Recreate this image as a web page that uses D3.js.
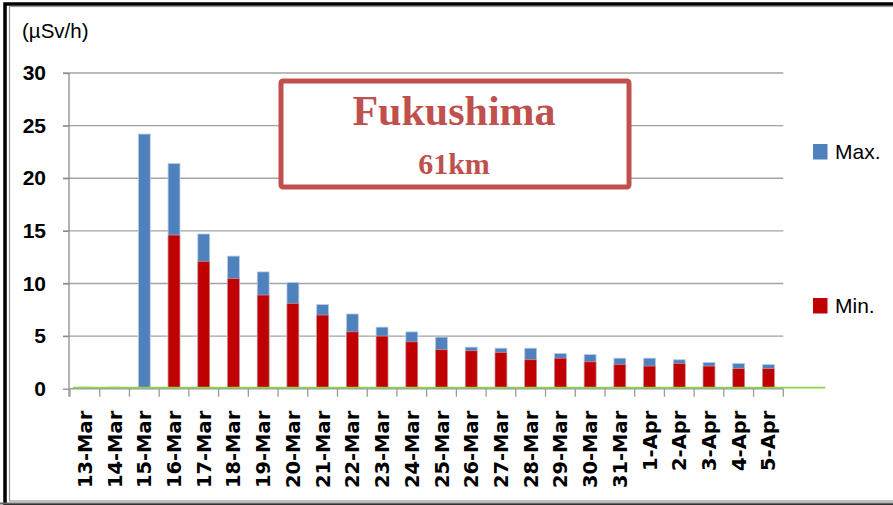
<!DOCTYPE html>
<html>
<head>
<meta charset="utf-8">
<script src="https://cdn.jsdelivr.net/npm/d3@7"></script>
<style>
  body { margin: 0; background: #fff; }
  svg { display: block; }
  .ylab text { font-family: "Liberation Sans", Arial, sans-serif; font-weight: bold; font-size: 21px; fill: #000; }
  .xlab text { font-family: "DejaVu Sans", sans-serif; font-weight: bold; font-size: 19.5px; fill: #000; }
</style>
</head>
<body>
<div id="chart"></div>
<script>
// dates on the x axis
var days = ["13-Mar", "14-Mar", "15-Mar", "16-Mar", "17-Mar", "18-Mar", "19-Mar", "20-Mar",
  "21-Mar", "22-Mar", "23-Mar", "24-Mar", "25-Mar", "26-Mar", "27-Mar", "28-Mar", "29-Mar",
  "30-Mar", "31-Mar", "1-Apr", "2-Apr", "3-Apr", "4-Apr", "5-Apr"];

// readings in microSv/h
var maxVals = [0.15, 0.15, 24.2, 21.4, 14.7, 12.6, 11.1, 10.1, 8.0, 7.1, 5.85, 5.4, 4.9,
  3.95, 3.85, 3.85, 3.35, 3.25, 2.9, 2.9, 2.75, 2.5, 2.4, 2.3];
var minVals = [0.12, 0.12, 0.1, 14.6, 12.1, 10.45, 8.9, 8.1, 7.0, 5.4, 5.0, 4.45, 3.7,
  3.6, 3.45, 2.75, 2.9, 2.55, 2.3, 2.15, 2.4, 2.15, 1.9, 1.9];

var yTicks = [0, 5, 10, 15, 20, 25, 30];
var normalLevel = 0.1;

var W = 893, H = 505;
var margin = { top: 73, left: 70, right: 109, bottom: 116 };

var svg = d3.select("#chart").append("svg")
  .attr("width", W)
  .attr("height", H);

// frame around the picture
svg.append("rect").attr("x", 5).attr("y", 4).attr("width", W + 10).attr("height", H - 4)
  .attr("fill", "none").attr("stroke", "#000").attr("stroke-width", 3.5);
svg.append("rect").attr("x", 9.5).attr("y", 6.5).attr("width", W + 10).attr("height", 494.5)
  .attr("fill", "none").attr("stroke", "#999").attr("stroke-width", 1.2);
svg.append("line").attr("x1", 0).attr("x2", W).attr("y1", 503.5).attr("y2", 503.5)
  .attr("stroke", "#666").attr("stroke-width", 2);

var x = d3.scaleBand()
  .domain(days)
  .range([margin.left, W - margin.right - 0.7])
  .padding(0);

var y = d3.scaleLinear()
  .domain([0, 30])
  .range([H - margin.bottom - 0.3, margin.top]);

var barW = x.bandwidth() * 0.4;

// grid
svg.append("g").selectAll("line")
  .data(yTicks.filter(function (d) { return d > 0; }))
  .enter().append("line")
  .attr("x1", 63).attr("x2", x.range()[1])
  .attr("y1", function (d) { return y(d); })
  .attr("y2", function (d) { return y(d); })
  .attr("stroke", "#a3a3a3").attr("stroke-width", 1.4);

// y labels
var yAxis = svg.append("g")
  .attr("class", "ylab")
  .attr("transform", "translate(" + (margin.left - 1) + ",0)")
  .call(d3.axisLeft(y).tickValues(yTicks).tickSize(6).tickPadding(17));
yAxis.select(".domain").attr("stroke", "#8c8c8c").attr("stroke-width", 1.3)
  .attr("d", "M0," + y(30) + "V" + (y(0) + 8));
yAxis.selectAll(".tick line").attr("stroke", "#8c8c8c").attr("stroke-width", 1.3);

svg.append("text")
  .attr("x", 22).attr("y", 38)
  .style("font-family", "Liberation Sans, Arial, sans-serif")
  .style("font-size", "20.5px")
  .text("(\u00b5Sv/h)");

// max bars behind, min bars in front
svg.append("g").selectAll("rect")
  .data(days)
  .enter().append("rect")
  .attr("x", function (d) { return x(d) + (x.bandwidth() - barW) / 2; })
  .attr("y", function (d, i) { return y(maxVals[i]); })
  .attr("width", barW)
  .attr("height", function (d, i) { return y(0) - y(maxVals[i]); })
  .attr("fill", "#4f81bd")
  .attr("stroke", "#b8cce4").attr("stroke-width", 0.8);

svg.append("g").selectAll("rect")
  .data(days)
  .enter().append("rect")
  .attr("x", function (d) { return x(d) + (x.bandwidth() - barW) / 2; })
  .attr("y", function (d, i) { return y(minVals[i]); })
  .attr("width", barW)
  .attr("height", function (d, i) { return y(0) - y(minVals[i]); })
  .attr("fill", "#c00000")
  .attr("stroke", "#d8a0a0").attr("stroke-width", 0.6);

// x axis line + ticks at the category edges
svg.append("line")
  .attr("x1", x.range()[0]).attr("x2", x.range()[1])
  .attr("y1", y(0)).attr("y2", y(0))
  .attr("stroke", "#9a9a9a").attr("stroke-width", 1.4);
svg.append("g").selectAll("line")
  .data(days.concat(["end"]))
  .enter().append("line")
  .attr("x1", function (d) { return d === "end" ? x.range()[1] : x(d); })
  .attr("x2", function (d) { return d === "end" ? x.range()[1] : x(d); })
  .attr("y1", y(0)).attr("y2", y(0) + 8)
  .attr("stroke", "#9a9a9a").attr("stroke-width", 1.3);

// green background level line
svg.append("line")
  .attr("x1", x.range()[0] + 3).attr("x2", x.range()[1] + 42)
  .attr("y1", y(normalLevel)).attr("y2", y(normalLevel))
  .attr("stroke", "#92d050").attr("stroke-width", 1.6);

var xAxis = svg.append("g")
  .attr("class", "xlab")
  .attr("transform", "translate(0," + y(0) + ")")
  .call(d3.axisBottom(x).tickSize(0).tickPadding(0));
xAxis.select(".domain").remove();
xAxis.selectAll("text")
  .attr("transform", "rotate(-90)")
  .attr("x", -22)
  .attr("y", 0)
  .attr("dy", "0.36em")
  .style("text-anchor", "end");

// title box
svg.append("rect")
  .attr("x", 281).attr("y", 81).attr("width", 348).attr("height", 106)
  .attr("rx", 2)
  .attr("fill", "#fff").attr("stroke", "#c0504d").attr("stroke-width", 5);
svg.append("text")
  .attr("x", 454).attr("y", 125)
  .attr("text-anchor", "middle")
  .style("font-family", "Liberation Serif, Times New Roman, serif")
  .style("font-weight", "bold").style("font-size", "42px")
  .attr("fill", "#c0504d")
  .text("Fukushima");
svg.append("text")
  .attr("x", 454).attr("y", 174)
  .attr("text-anchor", "middle")
  .style("font-family", "Liberation Serif, Times New Roman, serif")
  .style("font-weight", "bold").style("font-size", "30px")
  .attr("fill", "#c0504d")
  .text("61km");

// legend
var legend = [
  { name: "Max.", color: "#4f81bd", y: 144 },
  { name: "Min.", color: "#c00000", y: 298 }
];
var lg = svg.append("g").selectAll("g")
  .data(legend)
  .enter().append("g")
  .attr("transform", function (d) { return "translate(813," + d.y + ")"; });
lg.append("rect").attr("width", 14.5).attr("height", 15.5)
  .attr("fill", function (d) { return d.color; });
lg.append("text")
  .attr("x", 22).attr("y", 14.5)
  .style("font-family", "Liberation Sans, Arial, sans-serif")
  .style("font-size", "21px")
  .text(function (d) { return d.name; });
</script>
</body>
</html>
